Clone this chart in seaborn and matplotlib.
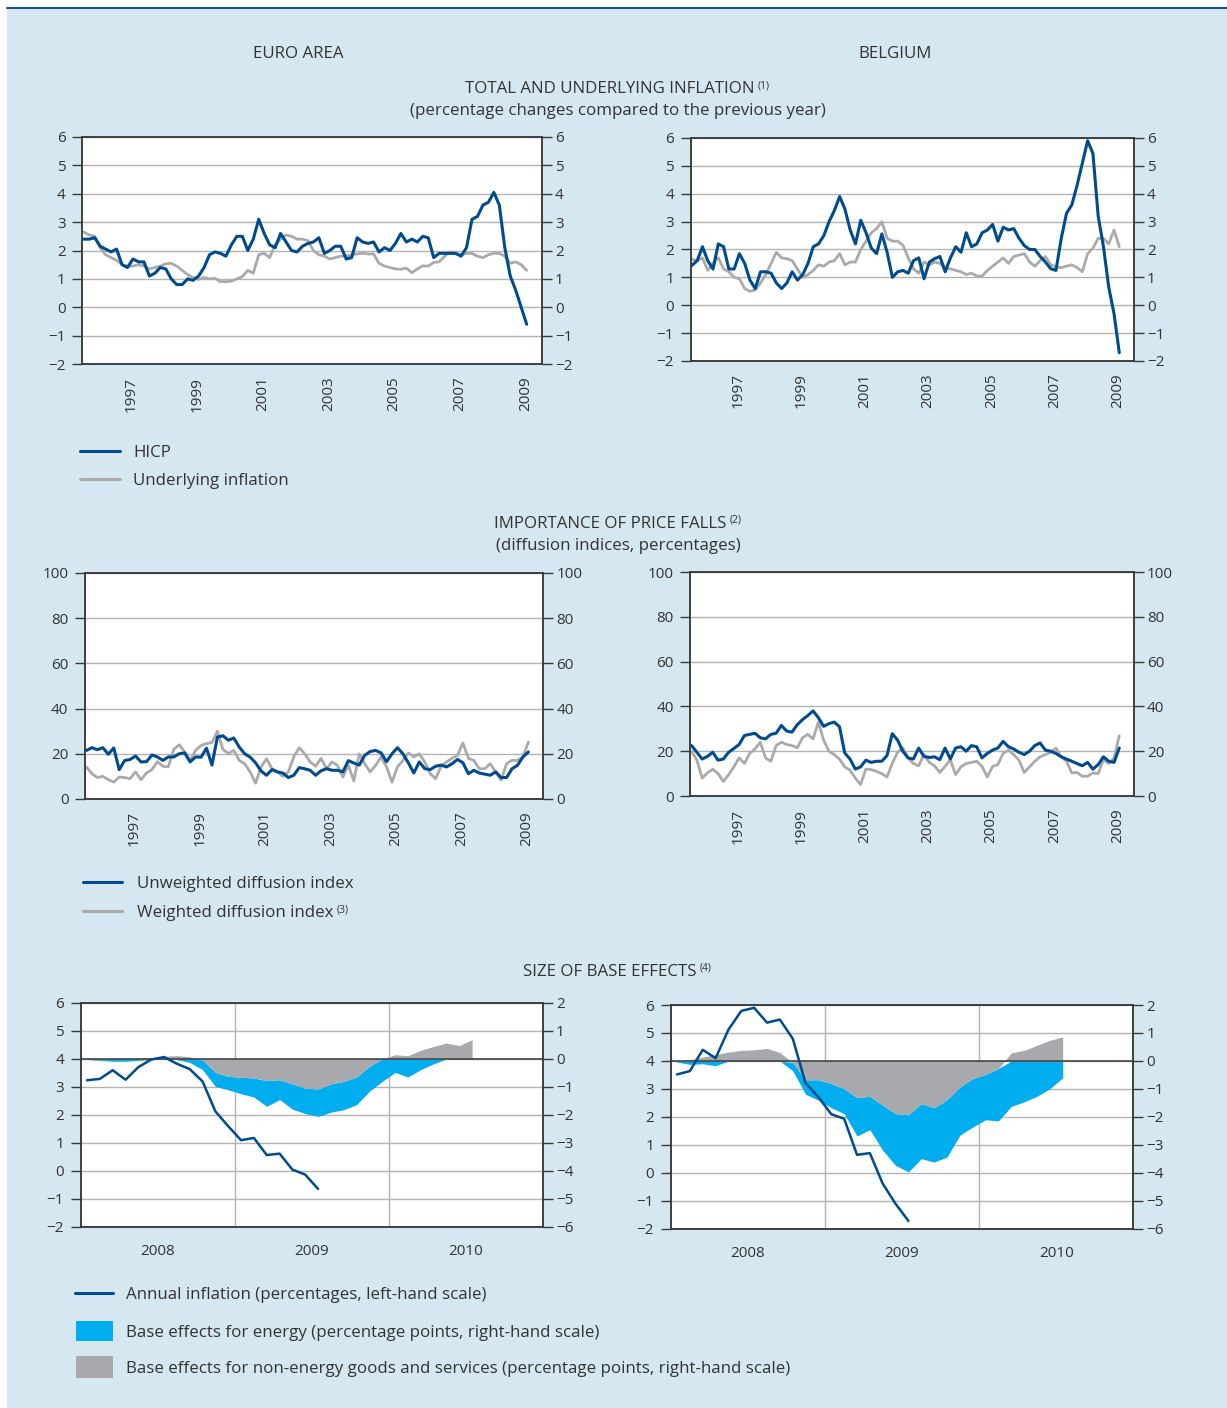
import numpy as np
import seaborn as sns
import matplotlib.pyplot as plt
from matplotlib.lines import Line2D
from matplotlib.patches import Rectangle

# ---- data ----
# bi-monthly observations Jan, Mar, May, Jul, Sep, Nov from Jan 1996 to Jul 2009
months_96 = np.arange(82)
dates = 1996 + (months_96 * 2 + 0.5) / 12

euro_hicp = [2.4, 2.4, 2.45, 2.15, 2.05, 1.95,
             2.05, 1.5, 1.4, 1.7, 1.6, 1.6,
             1.1, 1.2, 1.4, 1.35, 1.0, 0.8,
             0.8, 1.0, 0.95, 1.1, 1.4, 1.85,
             1.95, 1.9, 1.8, 2.2, 2.5, 2.5,
             2.0, 2.4, 3.1, 2.6, 2.2, 2.1,
             2.6, 2.3, 2.0, 1.95, 2.15, 2.25,
             2.3, 2.45, 1.9, 2.0, 2.15, 2.15,
             1.7, 1.75, 2.45, 2.3, 2.25, 2.3,
             1.95, 2.1, 2.0, 2.25, 2.6, 2.3,
             2.4, 2.3, 2.5, 2.45, 1.75, 1.9,
             1.9, 1.9, 1.9, 1.8, 2.1, 3.1,
             3.2, 3.6, 3.7, 4.05, 3.6, 2.1,
             1.1, 0.6, 0.0, -0.6]
euro_core = [2.65, 2.55, 2.5, 2.1, 1.85, 1.75,
             1.65, 1.5, 1.45, 1.45, 1.5, 1.45,
             1.35, 1.4, 1.45, 1.53, 1.55, 1.45,
             1.3, 1.15, 1.05, 0.98, 1.05, 1.0,
             1.02, 0.9, 0.9, 0.92, 1.0, 1.08,
             1.3, 1.2, 1.85, 1.9, 1.75, 2.2,
             2.4, 2.55, 2.5, 2.4, 2.4, 2.35,
             2.0, 1.85, 1.8, 1.7, 1.75, 1.8,
             1.8, 1.85, 1.88, 1.9, 1.88, 1.88,
             1.55, 1.45, 1.4, 1.35, 1.34, 1.38,
             1.22, 1.35, 1.46, 1.45, 1.58, 1.6,
             1.8, 1.95, 1.9, 1.85, 1.9, 1.9,
             1.8, 1.75, 1.85, 1.9, 1.9, 1.8,
             1.55, 1.6, 1.5, 1.3]
be_hicp = [1.43, 1.6, 2.1, 1.6, 1.3, 2.2,
           2.1, 1.3, 1.3, 1.85, 1.5, 0.9,
           0.6, 1.2, 1.2, 1.15, 0.8, 0.6,
           0.8, 1.2, 0.9, 1.1, 1.5, 2.1,
           2.2, 2.5, 3.0, 3.4, 3.9, 3.45,
           2.7, 2.2, 3.05, 2.6, 2.05, 1.85,
           2.56, 1.9, 1.0, 1.2, 1.25, 1.15,
           1.6, 1.7, 0.95, 1.55, 1.67, 1.75,
           1.2, 1.7, 2.1, 1.9, 2.6, 2.1,
           2.2, 2.6, 2.7, 2.9, 2.3, 2.8,
           2.7, 2.75, 2.4, 2.14, 2.0, 2.0,
           1.75, 1.55, 1.31, 1.25, 2.4, 3.3,
           3.6, 4.3, 5.1, 5.9, 5.45, 3.2,
           2.1, 0.65, -0.3, -1.7]
be_core = [1.65, 1.6, 1.7, 1.25, 1.5, 1.7,
           1.3, 1.2, 1.0, 0.95, 0.6, 0.5,
           0.55, 0.8, 1.1, 1.5, 1.9, 1.7,
           1.67, 1.6, 1.3, 1.0, 1.1, 1.25,
           1.45, 1.4, 1.55, 1.6, 1.85, 1.45,
           1.55, 1.55, 2.0, 2.3, 2.6, 2.75,
           3.0, 2.4, 2.3, 2.3, 2.15, 1.7,
           1.3, 1.15, 1.55, 1.45, 1.55, 1.5,
           1.35, 1.3, 1.25, 1.2, 1.1, 1.15,
           1.05, 1.05, 1.25, 1.4, 1.55, 1.7,
           1.5, 1.75, 1.8, 1.85, 1.55, 1.4,
           1.6, 1.75, 1.45, 1.38, 1.35, 1.4,
           1.45, 1.35, 1.2, 1.85, 2.05, 2.4,
           2.4, 2.2, 2.7, 2.1]

euro_unweighted = [21.5, 22.7, 21.8, 22.7, 19.8, 22.6,
                   13, 17, 17.5, 19, 16.4, 16.5,
                   19.5, 18.6, 17.1, 18.6, 18.6, 20,
                   20.4, 16.4, 18.6, 18.5, 22.5, 15,
                   27.4, 28, 26, 27, 23, 20,
                   18.5, 16, 12.4, 10.5, 13, 12,
                   11.5, 9.5, 10.5, 13.9, 13.4, 12.7,
                   10.5, 12.5, 13.4, 12.7, 12.7, 12,
                   17, 15.9, 15, 19.3, 21, 21.5,
                   20.4, 16.5, 20, 22.7, 20, 16,
                   11.5, 16.4, 13.4, 13, 14.5, 15,
                   14.2, 15.6, 17.5, 16, 11.2, 12.7,
                   11.5, 11, 10.5, 12, 9.5, 9.5,
                   13.4, 14.9, 18.6, 20.8]
euro_weighted = [14.2, 11.2, 9.5, 10, 8.6, 7.5,
                 9.7, 9.5, 9, 12, 8.5, 11.5,
                 13, 16.5, 14.5, 14.2, 22, 24,
                 20.8, 17.1, 21.5, 23.7, 24.5, 25,
                 30, 22, 20.1, 21.5, 17.1, 15.6,
                 12, 7, 14.2, 17.8, 13.4, 12,
                 10, 12, 18.6, 22.7, 20, 16.4,
                 14.5, 18, 13.4, 16.4, 14.9, 9.7,
                 14.9, 8, 20, 15.6, 12, 14.9,
                 18.6, 14.2, 7.5, 14.2, 17, 20.4,
                 18.6, 20, 16.4, 11.2, 9, 14.5,
                 16.4, 18, 19.3, 24.8, 18, 17.1,
                 13.4, 13.4, 15.6, 12, 8.3, 15.6,
                 17.1, 17.1, 18.6, 25.2]
be_unweighted = [22.5, 19.5, 16.5, 17.7, 19.5, 16,
                 16.5, 19.5, 21.2, 23, 27, 27.5,
                 28, 26, 25.5, 27.5, 28, 31.5,
                 29, 28.5, 31.8, 34.1, 35.9, 38,
                 35, 31.1, 32.3, 33, 31, 19.2,
                 16.5, 12, 13, 16, 15, 15.5,
                 15.5, 18, 27.8, 25, 20, 17,
                 16.5, 21.4, 17.7, 17.2, 17.5, 16.2,
                 21.4, 16.5, 21.4, 22, 20, 22.5,
                 22, 17, 19, 20.5, 21.4, 24.4,
                 22, 21, 19.5, 18.5, 20, 22.5,
                 23.7, 20.5, 20, 19, 17.5, 16.5,
                 15.5, 14.5, 13.5, 15, 12, 14,
                 17.5, 15.5, 15, 21.4]
be_weighted = [20, 16, 8, 10.3, 12, 10,
               6.5, 9.5, 13, 17, 14.5, 19,
               21, 24, 17, 15.5, 22.5, 24,
               23, 22.5, 21.5, 26, 27.5, 25.5,
               33, 25, 20, 18.5, 16.5, 13,
               11.5, 8, 5.1, 12, 11.8, 11,
               10, 8.5, 14.5, 19.5, 21.5, 17,
               14.5, 13.5, 18.5, 15, 13.5, 10.5,
               13.2, 16.2, 9.5, 13, 14.5, 15,
               15.5, 13.2, 8.5, 13.2, 14, 19,
               20.5, 18.5, 16, 10.5, 13, 15.5,
               17.5, 18.5, 19.5, 21.4, 17.5, 15.5,
               10.3, 10.5, 8.8, 8.8, 10.3, 10,
               16.2, 14.5, 17, 26.9]

# monthly, Jan 2008 - Jul 2009 (inflation) and Jan 2008 - Jul 2010 (base effects)
inf_months = 2008 + (np.arange(19) + 0.5) / 12
be_months = 2008 + (np.arange(31) + 0.5) / 12

euro_annual = [3.24, 3.29, 3.6, 3.26, 3.71, 3.98, 4.07, 3.83, 3.64, 3.2, 2.13, 1.6,
               1.1, 1.18, 0.57, 0.62, 0.05, -0.13, -0.64]
euro_energy = [-0.02, -0.05, -0.08, -0.08, -0.05, -0.02, 0.0, -0.02, -0.12, -0.35,
               -0.5, -0.48, -0.59, -0.68, -0.92, -0.71, -0.9, -0.91, -0.98, -1.01,
               -1.01, -0.99, -0.89, -0.8, -0.48, -0.64, -0.38, -0.17, 0.0, 0.0, 0.0]
euro_nonenergy = [0.0, 0.0, 0.0, 0.0, 0.02, 0.05, 0.1, 0.12, 0.08, -0.03,
                  -0.48, -0.62, -0.65, -0.68, -0.77, -0.74, -0.89, -1.04, -1.07, -0.89,
                  -0.8, -0.64, -0.26, 0.0, 0.15, 0.12, 0.31, 0.45, 0.57, 0.48, 0.69]

be_annual = [3.52, 3.64, 4.4, 4.1, 5.12, 5.79, 5.9, 5.37, 5.48, 4.8, 3.21, 2.71,
             2.1, 1.94, 0.65, 0.71, -0.38, -1.1, -1.71]
be_energy = [-0.04, -0.12, -0.1, -0.17, 0.0, 0.0, 0.0, 0.0, 0.0, -0.3,
             -0.52, -0.73, -0.86, -0.89, -1.37, -1.19, -1.61, -1.85, -2.04, -1.97,
             -1.94, -2.05, -1.72, -1.73, -1.62, -1.87, -1.62, -1.46, -1.26, -0.99, -0.6]
be_nonenergy = [0.0, 0.05, 0.14, 0.23, 0.32, 0.38, 0.4, 0.45, 0.3, -0.05,
                -0.67, -0.67, -0.81, -0.99, -1.31, -1.26, -1.58, -1.88, -1.92, -1.52,
                -1.67, -1.38, -0.93, -0.63, -0.48, -0.27, 0.29, 0.38, 0.56, 0.74, 0.86]

long_tick_labels = ["1997", "1999", "2001", "2003", "2005", "2007", "2009"]
short_tick_labels = ["2008", "2009", "2010"]

# ---- style ----
W, H = 1227, 1408
BG = "#d5e7f0"
BLUE = "#004b8d"
GREY_LINE = "#aaaaaa"
GRID = "#b3b3b3"
SPINE = "#3a3a3a"
TXT = "#333333"
CYAN = "#00aeef"
GREY_FILL = "#a7a9ac"
FS = 12.2

sns.set_theme(style="white")
plt.rcParams["font.family"] = ["Open Sans", "DejaVu Sans"]
plt.rcParams["text.color"] = TXT

fig = plt.figure(figsize=(W / 100, H / 100), dpi=100, facecolor=BG)


def box(x0, y0, x1, y1):
    return [x0 / W, 1 - y1 / H, (x1 - x0) / W, (y1 - y0) / H]


def frame(ax):
    for s in ax.spines.values():
        s.set_color(SPINE)
        s.set_linewidth(1.1)


def right_axis(ax, ylim, yticks):
    ax2 = ax.twinx()
    ax2.set_ylim(ylim)
    ax2.set_yticks(yticks)
    ax2.tick_params(axis="y", direction="out", length=7, width=1, pad=2.5,
                    labelsize=11, color=SPINE, labelcolor=TXT)
    frame(ax2)
    ax2.grid(False)
    return ax2


def series_panel(rect, ylim, yticks, s_blue, s_grey):
    ax = fig.add_axes(box(*rect))
    ax.set_facecolor("white")
    sns.lineplot(x=dates, y=s_grey, ax=ax, color=GREY_LINE, lw=2.0)
    sns.lineplot(x=dates, y=s_blue, ax=ax, color=BLUE, lw=2.2)
    ax.set_xlim(1996, 2010)
    ax.set_ylim(ylim)
    ax.set_yticks(yticks)
    ax.set_xticks(range(1997, 2010))
    ax.set_xticks(np.arange(1997.5, 2010, 2), labels=long_tick_labels, minor=True)
    ax.tick_params(axis="x", which="major", direction="in", length=7, width=1,
                   color=SPINE, labelbottom=False)
    ax.tick_params(axis="x", which="minor", length=0, pad=9, labelsize=11,
                   labelrotation=90, labelcolor=TXT)
    ax.tick_params(axis="y", direction="out", length=7, width=1, pad=5,
                   labelsize=11, color=SPINE, labelcolor=TXT, left=True)
    ax.grid(axis="y", color=GRID, lw=1)
    ax.set_axisbelow(True)
    ax.set_xlabel("")
    ax.set_ylabel("")
    frame(ax)
    right_axis(ax, ylim, yticks)
    return ax


def base_panel(rect, annual, energy, nonenergy):
    ax = fig.add_axes(box(*rect))
    ax2 = ax.twinx()
    ax.set_zorder(ax2.get_zorder() + 1)
    ax.patch.set_visible(False)
    ax2.patch.set_visible(True)
    ax2.set_facecolor("white")

    ne = np.array(nonenergy)
    en = np.array(energy)
    ne_neg = np.minimum(ne, 0)
    ne_pos = np.maximum(ne, 0)
    ax2.fill_between(be_months, ne_neg, ne_neg + np.minimum(en, 0), color=CYAN, lw=0, zorder=2)
    ax2.fill_between(be_months, ne_pos, ne_pos + np.maximum(en, 0), color=CYAN, lw=0, zorder=2)
    ax2.fill_between(be_months, 0, ne, color=GREY_FILL, lw=0, zorder=2)
    ax2.axhline(0, color="#444444", lw=1.2, zorder=3)
    for yr in (2009, 2010):
        ax2.axvline(yr, color=GRID, lw=1, zorder=0.5)
    ax2.set_ylim(-6, 2)
    ax2.set_yticks(range(-6, 3))
    ax2.grid(axis="y", color=GRID, lw=1)
    ax2.set_axisbelow(True)
    ax2.tick_params(axis="y", direction="out", length=7, width=1, pad=2.5,
                    labelsize=11, color=SPINE, labelcolor=TXT)
    frame(ax2)

    sns.lineplot(x=inf_months, y=annual, ax=ax, color=BLUE, lw=1.8)
    ax.set_xlim(2008, 2011)
    ax.set_ylim(-2, 6)
    ax.set_yticks(range(-2, 7))
    ax.set_xticks([2009, 2010])
    ax.set_xticks([2008.5, 2009.5, 2010.5], labels=short_tick_labels, minor=True)
    ax.tick_params(axis="x", which="major", length=0, labelbottom=False)
    ax.tick_params(axis="x", which="minor", length=0, pad=12, labelsize=11, labelcolor=TXT)
    ax.tick_params(axis="y", direction="out", length=7, width=1, pad=5,
                   labelsize=11, color=SPINE, labelcolor=TXT, left=True)
    ax.grid(False)
    ax.set_xlabel("")
    ax.set_ylabel("")
    frame(ax)
    return ax


# ---- panels ----
series_panel((82.4, 137, 541.7, 364), (-2, 6), range(-2, 7), euro_hicp, euro_core)
series_panel((690.6, 138, 1133.8, 361), (-2, 6), range(-2, 7), be_hicp, be_core)
series_panel((85.1, 573, 543.4, 799), (0, 100), range(0, 101, 20), euro_unweighted, euro_weighted)
series_panel((690.3, 572, 1133.8, 796), (0, 100), range(0, 101, 20), be_unweighted, be_weighted)
base_panel((80.6, 1003, 542.7, 1227), euro_annual, euro_energy, euro_nonenergy)
base_panel((670.6, 1005, 1133.4, 1229), be_annual, be_energy, be_nonenergy)

# ---- decorations ----
fig.patches.append(Rectangle((0, 1 - 7 / H), 1, 7 / H, transform=fig.transFigure,
                             facecolor="white", lw=0, zorder=0))
fig.patches.append(Rectangle((0, 0), 7 / W, 1, transform=fig.transFigure,
                             facecolor="white", lw=0, zorder=0))
fig.add_artist(Line2D([7 / W, 1], [1 - 7.5 / H] * 2, color="#1f4e8c", lw=1.5))

renderer = fig.canvas.get_renderer()


def ftext(x, y, s, size=FS, ha="center"):
    return fig.text(x / W, 1 - (y + 2) / H, s, ha=ha, va="center", fontsize=size, color=TXT)


def sup(t, s, size=7.5):
    bb = t.get_window_extent(renderer)
    fig.text((bb.x1 + 3) / W, (bb.y1 + 1) / H, s, ha="left", va="top", fontsize=size, color=TXT)


ftext(298, 52, "EURO AREA")
ftext(895, 52, "BELGIUM")
sup(ftext(610, 87, "TOTAL AND UNDERLYING INFLATION"), "(1)")
ftext(618, 109, "(percentage changes compared to the previous year)")
sup(ftext(610, 522, "IMPORTANCE OF PRICE FALLS"), "(2)")
ftext(618, 544, "(diffusion indices, percentages)")
sup(ftext(610, 970, "SIZE OF BASE EFFECTS"), "(4)")


def leg_line(x0, x1, y, color, lw, text, tx):
    fig.add_artist(Line2D([x0 / W, x1 / W], [1 - y / H] * 2, color=color, lw=lw))
    return ftext(tx, y, text, ha="left")


def leg_box(x0, x1, y0, y1, color, text, tx):
    fig.patches.append(Rectangle((x0 / W, 1 - y1 / H), (x1 - x0) / W, (y1 - y0) / H,
                                 transform=fig.transFigure, facecolor=color, lw=0))
    return ftext(tx, (y0 + y1) / 2, text, ha="left")


leg_line(80, 120, 451, BLUE, 2.2, "HICP", 133)
leg_line(80, 120, 479, GREY_LINE, 2.2, "Underlying inflation", 133)
leg_line(83, 122, 882, BLUE, 2.2, "Unweighted diffusion index", 137)
sup(leg_line(83, 122, 911, GREY_LINE, 2.2, "Weighted diffusion index", 137), "(3)")
leg_line(75, 113, 1293, BLUE, 2.2, "Annual inflation (percentages, left-hand scale)", 126)
leg_box(76, 113, 1321, 1341, CYAN, "Base effects for energy (percentage points, right-hand scale)", 126)
leg_box(76, 113, 1356, 1378, GREY_FILL,
        "Base effects for non-energy goods and services (percentage points, right-hand scale)", 126)

fig.savefig("out.png", dpi=100, facecolor=BG)
